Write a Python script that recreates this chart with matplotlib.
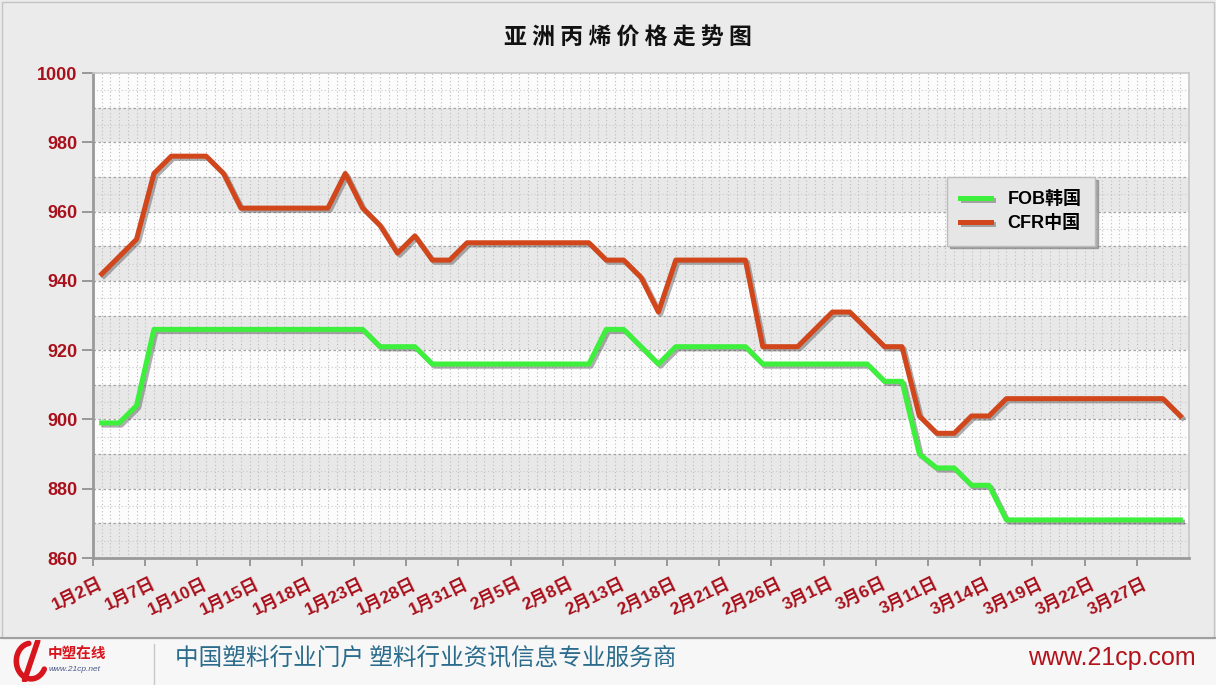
import numpy as np
from matplotlib import pyplot as plt
from matplotlib import patheffects as pe
from matplotlib.transforms import ScaledTranslation
from matplotlib.patches import Rectangle

plt.rcParams['font.family'] = ['Liberation Sans', 'Noto Sans CJK SC', 'DejaVu Sans']

# trading days shown on the category axis
dates = ['1月2日', '1月3日', '1月4日', '1月7日', '1月8日', '1月9日', '1月10日', '1月11日',
         '1月14日', '1月15日', '1月16日', '1月17日', '1月18日', '1月21日', '1月22日',
         '1月23日', '1月24日', '1月25日', '1月28日', '1月29日', '1月30日', '1月31日',
         '2月1日', '2月4日', '2月5日', '2月6日', '2月7日', '2月8日', '2月11日', '2月12日',
         '2月13日', '2月14日', '2月15日', '2月18日', '2月19日', '2月20日', '2月21日',
         '2月22日', '2月25日', '2月26日', '2月27日', '2月28日',
         '3月1日', '3月4日', '3月5日', '3月6日', '3月7日', '3月8日', '3月11日', '3月12日',
         '3月13日', '3月14日', '3月15日', '3月18日', '3月19日', '3月20日', '3月21日',
         '3月22日', '3月25日', '3月26日', '3月27日', '3月28日', '3月29日']

fob = [899, 899, 904, 926, 926, 926, 926, 926, 926, 926,
       926, 926, 926, 926, 926, 926, 921, 921, 921, 916,
       916, 916, 916, 916, 916, 916, 916, 916, 916, 926,
       926, 921, 916, 921, 921, 921, 921, 921, 916, 916,
       916, 916, 916, 916, 916, 911, 911, 890, 886, 886,
       881, 881, 871, 871, 871, 871, 871, 871, 871, 871,
       871, 871, 871]

cfr = [942, 947, 952, 971, 976, 976, 976, 971, 961, 961,
       961, 961, 961, 961, 971, 961, 956, 948, 953, 946,
       946, 951, 951, 951, 951, 951, 951, 951, 951, 946,
       946, 941, 931, 946, 946, 946, 946, 946, 921, 921,
       921, 926, 931, 931, 926, 921, 921, 901, 896, 896,
       901, 901, 906, 906, 906, 906, 906, 906, 906, 906,
       906, 906, 901]

names = ['FOB韩国', 'CFR中国']
title = '亚洲丙烯价格走势图'
slogan = '中国塑料行业门户 塑料行业资讯信息专业服务商'
site = 'www.21cp.com'

red_text = '#a8111c'
x = np.arange(len(dates))

fig = plt.figure(figsize=(12.16, 6.85), dpi=100)
fig.patch.set_facecolor('#ebebeb')

# footer strip (drawn under the axes)
fig.add_artist(Rectangle((0, 0), 1, 0.068, transform=fig.transFigure,
                         facecolor='#f7f7f7', edgecolor='none', zorder=-2))
fig.add_artist(plt.Line2D([0, 1], [0.068, 0.068], color='#a0a0a0', lw=1.5))
fig.add_artist(plt.Line2D([0.127, 0.127], [0.0, 0.06], color='#c8c8c8', lw=1))
fig.add_artist(Rectangle((0.002, 0.069), 0.996, 0.928, transform=fig.transFigure,
                         facecolor='none', edgecolor='#c4c4c4', lw=1))

ax = fig.add_axes([0.0765, 0.1854, 0.9013, 0.7080])
ax.set_facecolor('#fcfcfc')

# alternating bands + dotted grid
for lo in range(860, 1000, 20):
    ax.axhspan(lo, lo + 10, color='#e8e8e8', zorder=0, lw=0)
for gx in np.arange(-0.5, len(dates), 0.5):
    ax.axvline(gx, color='#bdbdbd', lw=0.8, ls=(0, (1, 2.2)), zorder=0.5)
for gy in range(865, 1000, 10):
    ax.axhline(gy, color='#cacaca', lw=0.8, ls=(0, (1, 2.2)), zorder=0.5)
for gy in range(870, 1000, 10):
    ax.axhline(gy, color='#a4a4a4', lw=0.9, ls=(0, (2, 2)), zorder=0.6)

shadow = [pe.SimpleLineShadow(offset=(1.6, -1.6), shadow_color='#505050', alpha=0.45),
          pe.Normal()]
ax.plot(x, fob, color='#3cf03c', lw=3.6, label=names[0], path_effects=shadow,
        solid_joinstyle='round', zorder=3)
ax.plot(x, cfr, color='#d1461b', lw=3.6, label=names[1], path_effects=shadow,
        solid_joinstyle='round', zorder=3)

ax.set_xlim(-0.5, len(dates) - 0.5)
ax.set_ylim(860, 1000)

ax.set_yticks(range(860, 1001, 20))
ax.tick_params(axis='y', colors='#8a8a8a', length=8, width=1.2, pad=3,
               labelcolor=red_text, labelsize=13)
for lab in ax.get_yticklabels():
    lab.set_fontweight('bold')

ax.set_xticks(x[::3] - 0.5)
ax.set_xticklabels(dates[::3])
ax.tick_params(axis='x', colors='#8a8a8a', length=5.5, width=1.2, pad=12,
               labelcolor=red_text, labelsize=12.5, labelrotation=26)
for lab in ax.get_xticklabels():
    lab.set_fontweight('bold')
    lab.set_ha('right')
    lab.set_va('center')
    lab.set_rotation_mode('anchor')
    lab.set_transform(lab.get_transform() + ScaledTranslation(0.09, 0, fig.dpi_scale_trans))

for side in ['left', 'bottom']:
    ax.spines[side].set_color('#9a9a9a')
    ax.spines[side].set_linewidth(2)
for side in ['top', 'right']:
    ax.spines[side].set_color('#c8c8c8')
    ax.spines[side].set_linewidth(1.2)

leg = ax.legend(loc='upper left', bbox_to_anchor=(0.779, 0.785), fancybox=False,
                shadow={'color': '#7a7a7a', 'alpha': 0.6}, facecolor='#e6e6e6',
                edgecolor='#bcbcbc', framealpha=1, handlelength=1.7, handletextpad=0.9,
                borderpad=0.75, labelspacing=0.4, borderaxespad=0,
                prop={'weight': 'bold', 'size': 13})
leg.get_frame().set_linewidth(1)

fig.text(0.516, 0.944, ' '.join(title), ha='center', va='center', fontsize=16.5,
         fontweight='bold', family=['Noto Sans CJK SC'], color='#111111')

# footer content
logo = fig.add_axes([0.008, 0.004, 0.032, 0.062])
logo.axis('off')
t = np.linspace(0.55 * np.pi, 1.85 * np.pi, 60)
logo.plot(0.55 + 0.38 * np.cos(t), 0.5 + 0.42 * np.sin(t), color='#d8141c', lw=4,
          solid_capstyle='round')
logo.plot([0.38, 0.72], [0.05, 0.97], color='#d8141c', lw=4, solid_capstyle='round')
logo.set_xlim(0, 1)
logo.set_ylim(0, 1)
fig.text(0.039, 0.047, '中塑在线', color='#d8141c', fontsize=10.5, fontweight='bold',
         style='italic', family=['Noto Sans CJK SC'], va='center', ha='left')
fig.text(0.040, 0.022, 'www.21cp.net', color='#4a5a8a', fontsize=6, style='italic',
         va='center', ha='left')
fig.text(0.144, 0.0394, slogan, color='#2b6c8c', fontsize=17, family=['Noto Sans CJK SC'],
         va='center', ha='left')
fig.text(0.983, 0.0394, site, color='#b3121b', fontsize=18, va='center', ha='right')

plt.savefig('out.png', dpi=100, facecolor=fig.get_facecolor())
